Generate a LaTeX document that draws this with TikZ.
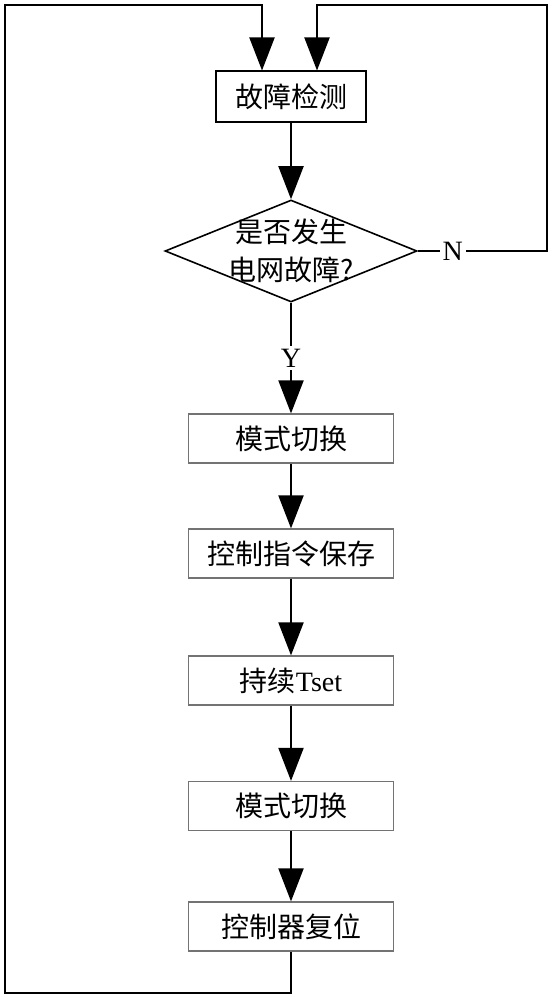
\documentclass[tikz,border=0pt]{standalone}
\usepackage{fontspec}
\setmainfont{Liberation Serif}
\newfontfamily\cjk{Noto Sans CJK SC}
\usetikzlibrary{arrows.meta,positioning,shapes.geometric}
\tikzset{pbox/.style={draw=black!55,line width=.6pt,minimum width=102.5pt,minimum height=24.5pt,inner sep=0pt},
 tbox/.style={pbox,draw=black,line width=1pt,minimum width=75pt,minimum height=25.5pt},
 dec/.style={draw,diamond,line width=.8pt,minimum width=126pt,minimum height=51pt,inner sep=0pt},
 wire/.style={line width=1pt},arr/.style={wire,-{Triangle[length=16.5pt,width=12.5pt]}},
 lbl/.style={fill=white,inner sep=1.5pt,font=\fontsize{14pt}{16pt}\selectfont},
 every node/.style={font=\cjk\fontsize{14pt}{19pt}\selectfont}}
\begin{document}
\begin{tikzpicture}[x=0.5pt,y=-0.5pt]
\useasboundingbox (0,0) rectangle (554,1000);
\node[tbox] (detect) at (291,97) {故障检测};
\node[dec] (judge) at (291,251) {};
\node[align=center] (judgetxt) at (291,251) {是否发生\\电网故障?};
\node[pbox] (mode1) at (291,438.5) {模式切换};
\node[pbox] (save) at (291,553.5) {控制指令保存};
\node[pbox] (hold) at (291,680.5) {持续{\rmfamily Tset}};
\node[pbox] (mode2) at (291,806) {模式切换};
\node[pbox] (reset) at (291,926.5) {控制器复位};
% loop corners
\coordinate (rb) at (547,251);\coordinate (rt) at (547,5);
\coordinate (lb) at (5,993);\coordinate (lt) at (5,5);
\draw[arr] (detect.south) -- (judge.north);
\draw[arr] (judge.south) -- node[lbl]{\rmfamily Y} (mode1.north);
\draw[arr] (mode1) -- (save);\draw[arr] (save) -- (hold);
\draw[arr] (hold) -- (mode2);\draw[arr] (mode2) -- (reset);
\draw[arr] (judge.east) -- node[lbl,pos=.27]{\rmfamily N} (rb) -- (rt) -| ([xshift=13pt]detect.north);
\draw[arr] (reset.south) |- (lb) -- (lt) -| ([xshift=-14.5pt]detect.north);
\end{tikzpicture}
\end{document}
